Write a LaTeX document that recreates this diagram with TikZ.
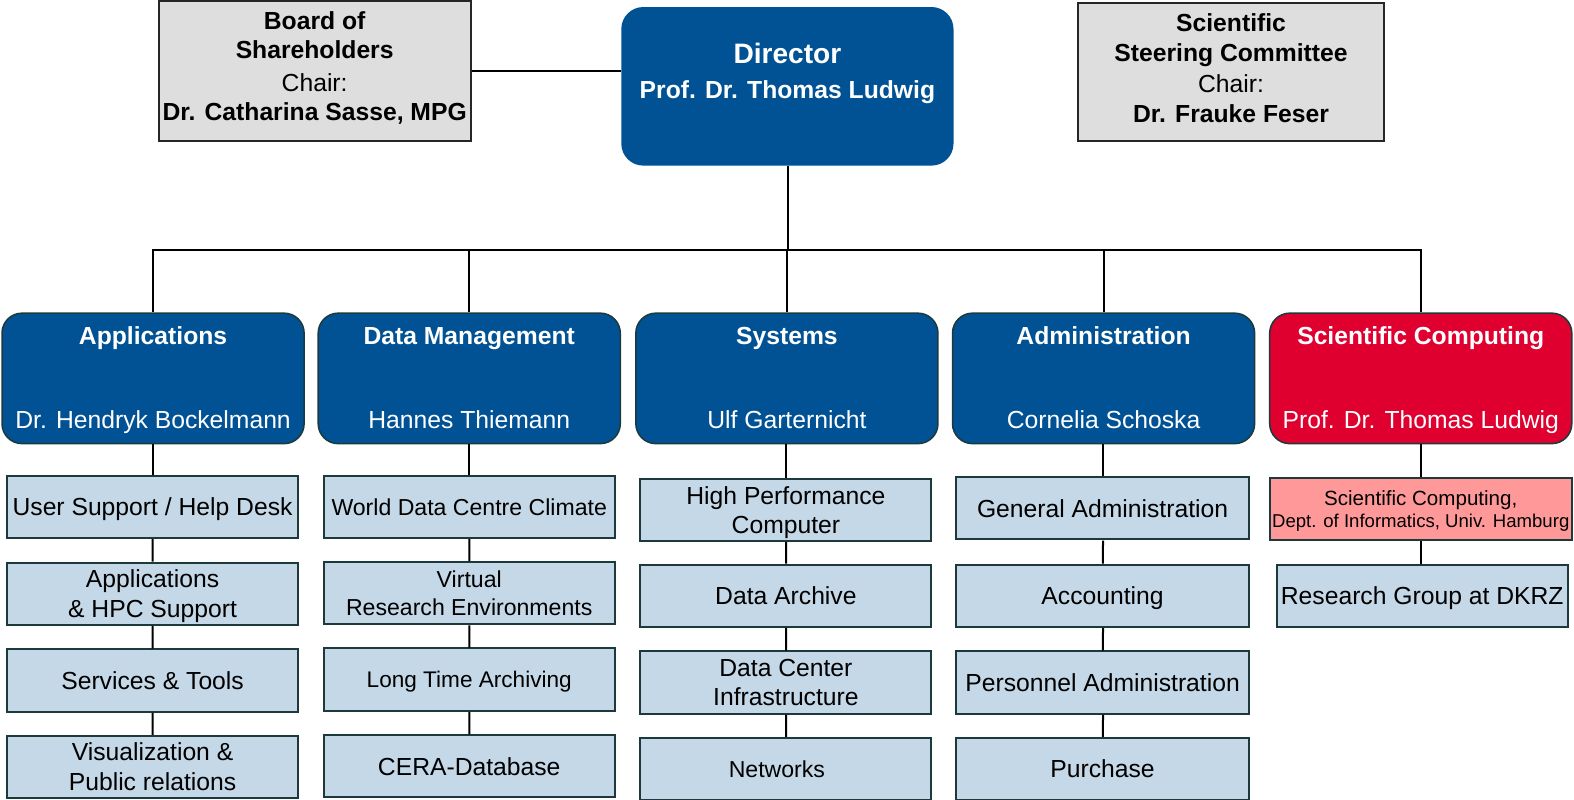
\documentclass[tikz,border=0pt]{standalone}
\usepackage{fontspec}
\setmainfont{Liberation Sans}
\definecolor{dblue}{RGB}{0,82,148}
\definecolor{dred}{RGB}{224,0,48}
\definecolor{pinkc}{RGB}{255,153,153}
\definecolor{subc}{RGB}{197,216,231}
\definecolor{grayc}{RGB}{222,222,222}
\definecolor{bordc}{RGB}{28,58,60}
\begin{document}
\begin{tikzpicture}[x=1bp,y=-1bp,scale=1.0037,every node/.append style={transform shape},
  conn/.style={line width=2bp, draw=black},
  topbox/.style={draw=black!85, line width=2bp, fill=grayc, minimum width=311bp, minimum height=139bp, inner sep=0bp, align=center, font=\fontsize{24.6bp}{29.5bp}\selectfont, text depth=9.5bp},
  dirbox/.style={draw=none, fill=dblue, rounded corners=22bp, minimum width=331bp, minimum height=158bp, inner sep=0bp},
  dept/.style={draw=bordc, line width=1.5bp, fill=dblue, rounded corners=20bp, minimum width=301bp, minimum height=130bp, inner sep=0bp},
  ttl/.style={text=white, font=\bfseries\fontsize{24.6bp}{30bp}\selectfont, anchor=base, inner sep=0bp},
  nm/.style={text=white, font=\fontsize{24.6bp}{30bp}\selectfont, anchor=base, inner sep=0bp},
  sub/.style={draw=bordc, line width=2bp, fill=subc, minimum width=290bp, minimum height=62bp, inner sep=0bp, align=center, font=\fontsize{24.6bp}{29.5bp}\selectfont, text depth=0bp},
]
\useasboundingbox (0,0) rectangle (1568.2,797.05);

% top row
\node[topbox] (board) at (313.5,70.5) {\textbf{Board of}\\\textbf{Shareholders}\\[3bp]Chair:\\\textbf{Dr. Catharina Sasse, MPG}};
\node[topbox, minimum width=305bp, minimum height=137bp, text depth=7.5bp] (steer) at (1226.5,71.5) {\textbf{Scientific}\\\textbf{Steering Committee}\\[2bp]Chair:\\\textbf{Dr. Frauke Feser}};
\node[dirbox] (dir) at (784.5,86) {};
\node[text=white, inner sep=0bp, align=center, anchor=base] (dirt1) at (784.5,63) {\bfseries\fontsize{28bp}{32bp}\selectfont Director};
\node[text=white, inner sep=0bp, align=center, anchor=base] (dirt2) at (784.5,98) {\bfseries\fontsize{24.6bp}{30bp}\selectfont Prof. Dr. Thomas Ludwig};

% departments
\node[dept] (dapp) at (152.5,377) {};
\node[dept] (ddm) at (467.5,377) {};
\node[dept] (dsys) at (784,377) {};
\node[dept] (dadm) at (1099.5,377) {};
\node[dept, fill=dred] (dsc) at (1415.5,377) {};

\node[ttl] (tapp) at (152.5,343) {Applications};
\node[nm] (napp) at (152.5,427) {Dr. Hendryk Bockelmann};
\node[ttl] (tdm) at (467.5,343) {Data Management};
\node[nm] (ndm) at (467.5,427) {Hannes Thiemann};
\node[ttl] (tsys) at (784,343) {Systems};
\node[nm] (nsys) at (784,427) {Ulf Garternicht};
\node[ttl] (tadm) at (1099.5,343) {Administration};
\node[nm] (nadm) at (1099.5,427) {Cornelia Schoska};
\node[ttl] (tsc) at (1415.5,343) {Scientific Computing};
\node[nm] (nsc) at (1415.5,427) {Prof. Dr. Thomas Ludwig};

% sub boxes: applications
\node[sub] (a1) at (152,505) {User Support / Help Desk};
\node[sub] (a2) at (152,591.5) {Applications\\\& HPC Support};
\node[sub] (a3) at (152,678) {Services \& Tools};
\node[sub] (a4) at (152,764) {Visualization \&\\Public relations};
% data management
\node[sub, font=\fontsize{23bp}{28bp}\selectfont] (m1) at (467.5,505) {World Data Centre Climate};
\node[sub, font=\fontsize{23bp}{28bp}\selectfont] (m2) at (467.5,591) {Virtual\\Research Environments};
\node[sub, font=\fontsize{22.5bp}{28bp}\selectfont] (m3) at (467.5,677) {Long Time Archiving};
\node[sub] (m4) at (467.5,763.5) {CERA-Database};
% systems
\node[sub] (s1) at (783,508) {High Performance\\Computer};
\node[sub] (s2) at (783,593.5) {Data Archive};
\node[sub] (s3) at (783,680) {Data Center\\Infrastructure};
\node[sub, font=\fontsize{23bp}{28bp}\selectfont] (s4) at (783,766) {Networks\hspace*{18bp}};
% administration
\node[sub, minimum width=292bp] (ad1) at (1098.5,506.5) {General Administration};
\node[sub, minimum width=292bp] (ad2) at (1098.5,593.5) {Accounting};
\node[sub, minimum width=292bp] (ad3) at (1098.5,680) {Personnel Administration};
\node[sub, minimum width=292bp] (ad4) at (1098.5,766) {Purchase};
% scientific computing
\node[sub, fill=pinkc, minimum width=301bp, font=\fontsize{18.5bp}{21.5bp}\selectfont] (sc1) at (1415.5,507) {{\fontsize{20.5bp}{21.5bp}\selectfont Scientific Computing,}\\Dept. of Informatics, Univ. Hamburg};
\node[sub] (sc2) at (1417,593.5) {Research Group at DKRZ};

% connectors
\coordinate (bus) at (784.5,249);
\draw[conn] (board.east) -- (board.east -| dir.west);
\draw[conn] (dir.south) -- (bus);
\draw[conn] (dapp.north) |- (bus);
\draw[conn] (ddm.north) |- (bus);
\draw[conn] (dsys.north) -- (dsys.north |- bus);
\draw[conn] (dadm.north) |- (bus);
\draw[conn] (dsc.north) |- (bus);

\draw[conn] (a1.north) -- (a1.north |- dapp.south);
\draw[conn] (a1) -- (a2); \draw[conn] (a2) -- (a3); \draw[conn] (a3) -- (a4);
\draw[conn] (ddm.south) -- (m1.north);
\draw[conn] (m1) -- (m2); \draw[conn] (m2) -- (m3); \draw[conn] (m3) -- (m4);
\draw[conn] (s1.north) -- (s1.north |- dsys.south);
\draw[conn] (s1) -- (s2); \draw[conn] (s2) -- (s3); \draw[conn] (s3) -- (s4);
\draw[conn] (ad1.north) -- (ad1.north |- dadm.south);
\draw[conn] (ad1) -- (ad2); \draw[conn] (ad2) -- (ad3); \draw[conn] (ad3) -- (ad4);
\draw[conn] (dsc.south) -- (sc1.north);
\draw[conn] (sc1.south) -- (sc1.south |- sc2.north);
\end{tikzpicture}
\end{document}
